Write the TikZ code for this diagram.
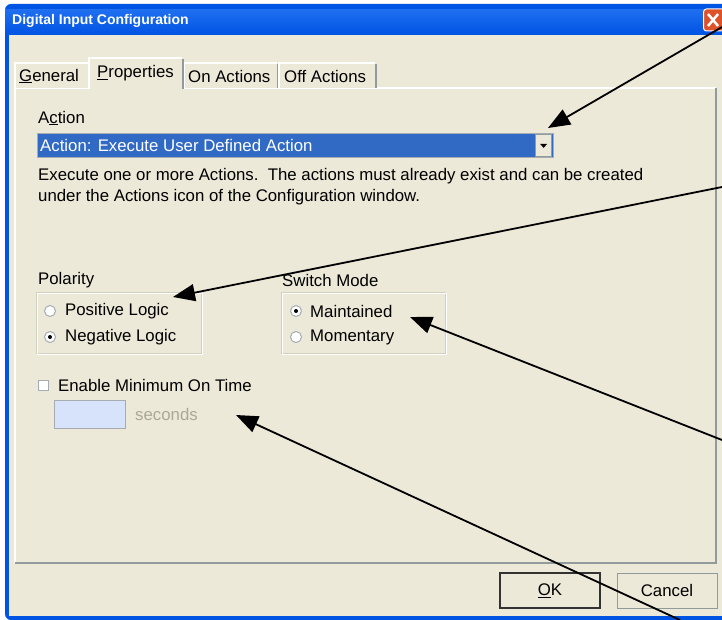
\documentclass[tikz,border=0pt]{standalone}
\usepackage{fontspec}
\setmainfont{Liberation Sans}
\usetikzlibrary{arrows.meta}
\definecolor{face}{RGB}{236,233,216}
\definecolor{xpblue}{RGB}{0,84,227}
\definecolor{xplight}{RGB}{30,110,240}
\definecolor{selblue}{RGB}{49,106,197}
\definecolor{etch}{RGB}{208,208,191}
\definecolor{panelshadow}{RGB}{145,155,156}
\definecolor{boxfill}{RGB}{214,227,250}
\definecolor{boxedge}{RGB}{165,172,178}
\definecolor{graytext}{RGB}{172,168,153}
\definecolor{closered}{RGB}{222,82,42}
\newcommand{\dlgfont}{\fontsize{16.8}{19}\selectfont}
\newcommand{\radiobtn}[2]{\filldraw[fill=white,draw=boxedge,line width=1pt] (#1,#2) circle (5.5pt);}
\newcommand{\radiodot}[2]{\fill (#1,#2) circle (2pt);}
\newcommand{\groupbox}[4]{
    \draw[etch] (#1,#2) rectangle (#3,#4);
    \draw[white] (#1+1,#2+1) rectangle (#3+1,#4+1);
}
\newcommand{\tabshape}[4]{
    \fill[face] (#1,#4) rectangle (#3,#2);
    \draw[white,line width=1.2pt] (#1,#4)--(#1,#2)--(#3-1,#2);
    \draw[panelshadow,line width=1.2pt] (#3,#2+1)--(#3,#4);
}
\tikzset{
    lbl/.style={anchor=west,inner sep=0pt,font=\dlgfont},
    callout/.style={line width=1.8pt,-{Triangle[length=22pt,width=17pt]}},
    button/.style={fill=face,minimum width=100pt,minimum height=35pt,font=\dlgfont}
}
\begin{document}
\begin{tikzpicture}[x=1pt,y=-1pt]
\useasboundingbox (0,0) rectangle (722,620);
\fill[white] (0,0) rectangle (722,620);
\fill[xpblue,rounded corners=6pt] (5,4) rectangle (740,620);
\shade[top color=xplight,bottom color=xpblue] (5,10) rectangle (722,35);
\fill[face] (9,35) rectangle (722,616);
\node[anchor=west,inner sep=0pt,text=white,font=\bfseries\fontsize{14}{16}\selectfont] (title) at (12,21) {Digital Input Configuration};
\node[fill=closered,draw=white,line width=1pt,rounded corners=3pt,minimum width=22pt,minimum height=22pt,anchor=west] (closebtn) at (703,20) {};
\draw[white,line width=2.5pt] (708,14)--(718,26) (718,14)--(708,26);
\draw[white,line width=1.2pt] (15,563)--(15,88)--(716,88);
\draw[panelshadow,line width=1.5pt] (716,88)--(716,563)--(15,563);
\tabshape{15}{63}{89}{88}
\tabshape{184}{63}{278}{88}
\tabshape{279}{63}{376}{88}
\tabshape{89}{58}{183}{89}
\node[lbl] (tabgeneral) at (19,76) {\underline{G}eneral};
\node[lbl] (tabprops) at (97,73) {\underline{P}roperties};
\node[lbl] (tabon) at (188,76) {On Actions};
\node[lbl] (taboff) at (284,76) {Off Actions};
\node[lbl] (actionlbl) at (38,118) {A\underline{c}tion};
\node[fill=selblue,draw=boxedge,line width=1pt,anchor=north west,minimum width=516pt,minimum height=24pt] (combo) at (37,133) {};
\node[lbl,text=white] (combotext) at (40,145) {Action: Execute User Defined Action};
\node[fill=face,draw=panelshadow,line width=0.8pt,anchor=north east,minimum width=16pt,minimum height=22pt] (dropbtn) at (552,134) {};
\fill (dropbtn.center) ++(-3.5,-1.5) -- ++(7,0) -- ++(-3.5,4) -- cycle;
\node[lbl] (desc1) at (38,176) {Execute one or more Actions.\ \ The actions must already exist and can be created};
\node[lbl] (desc2) at (38,197) {under the Actions icon of the Configuration window.};
\node[lbl] (polarity) at (38,280) {Polarity};
\groupbox{36}{292}{201}{353}
\radiobtn{50}{311}\radiobtn{50}{337}\radiodot{50}{337}
\node[lbl] (poslogic) at (65,311) {Positive Logic};
\node[lbl] (neglogic) at (65,337) {Negative Logic};
\node[lbl] (switchmode) at (282,280) {Switch Mode};
\groupbox{281}{292}{445}{353}
\radiobtn{296}{311}\radiodot{296}{311}\radiobtn{296}{337}
\node[lbl] (maintained) at (310,311) {Maintained};
\node[lbl] (momentary) at (310,337) {Momentary};
\filldraw[fill=white,draw=boxedge,line width=1pt] (38,380) rectangle (48,390);
\node[lbl] (enablemin) at (58,385) {Enable Minimum On Time};
\node[fill=boxfill,draw=boxedge,line width=1pt,anchor=north west,minimum width=71pt,minimum height=28pt] (secbox) at (54,400) {};
\node[lbl,text=graytext] (seconds) at (135,414) {seconds};
\node[button,draw=black!80,line width=2pt] (okbtn) at (550,590.5) {\underline{O}K};
\node[button,draw=panelshadow,line width=1pt] (cancelbtn) at (667,590.5) {Cancel};
\coordinate (fromtop) at (722,27);
\coordinate (fromdesc) at (722,187);
\coordinate (fromright) at (722,440);
\coordinate (frombottom) at (680,620);
\coordinate (tipcombo) at (548,128);
\coordinate (tippolarity) at (173,297);
\coordinate (tipswitch) at (410,317);
\coordinate (tipseconds) at (236,415);
\draw[callout] (fromtop)--(tipcombo);
\draw[callout] (fromdesc)--(tippolarity);
\draw[callout] (fromright)--(tipswitch);
\draw[callout] (frombottom)--(tipseconds);
\end{tikzpicture}
\end{document}
